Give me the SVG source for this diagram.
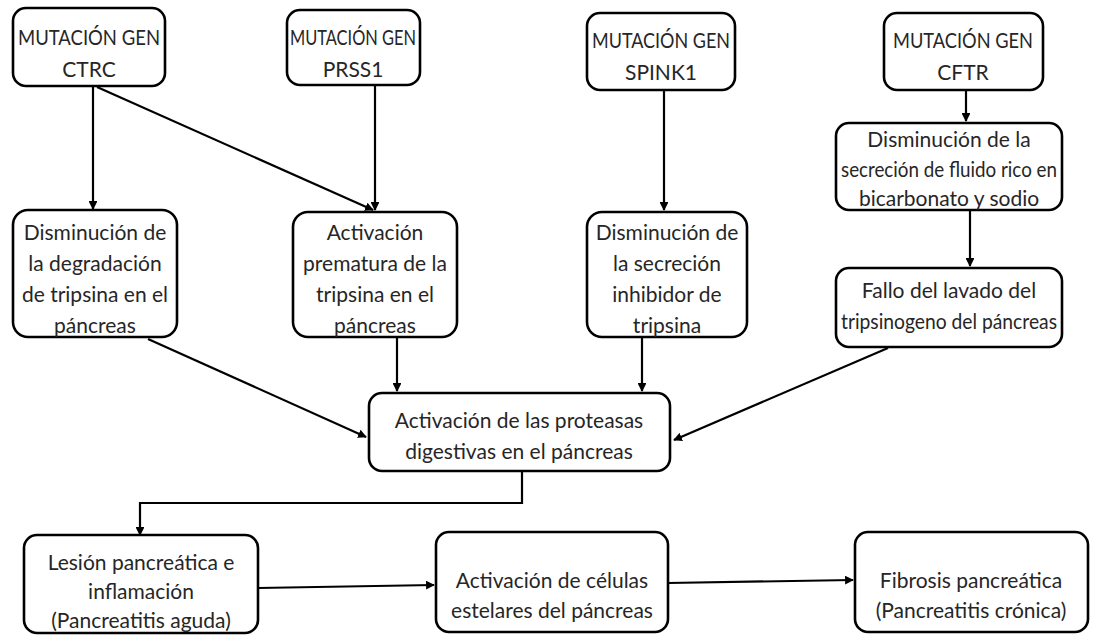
<svg xmlns="http://www.w3.org/2000/svg" width="1103" height="635" viewBox="0 0 1103 635">
<style>
.box{fill:#fff;stroke:#000;stroke-width:2.6}
.t{font-family:Lato,"Open Sans","Liberation Sans",sans-serif;font-size:21px;fill:#262626;text-anchor:middle}
.c{stroke:#000;stroke-width:2.2;fill:none;marker-end:url(#ah)}
</style>
<defs>
<marker id="ah" viewBox="0 0 10 10" refX="9" refY="5" markerWidth="4" markerHeight="4" orient="auto" markerUnits="strokeWidth">
<path d="M0,0 L10,5 L0,10 z" fill="#000"/>
</marker>
</defs>
<rect width="1103" height="635" fill="#fff"/>
<g id="connectors">
<line class="c" x1="93" y1="86" x2="93" y2="209"/>
<line class="c" x1="97" y1="87" x2="373" y2="210"/>
<line class="c" x1="375" y1="85" x2="375" y2="210"/>
<line class="c" x1="664" y1="90" x2="664" y2="210"/>
<line class="c" x1="966" y1="90" x2="966" y2="121"/>
<line class="c" x1="970" y1="210" x2="970" y2="266"/>
<line class="c" x1="148" y1="339" x2="366" y2="437"/>
<line class="c" x1="397" y1="337" x2="397" y2="391"/>
<line class="c" x1="642" y1="337" x2="642" y2="391"/>
<line class="c" x1="888" y1="348" x2="674" y2="440"/>
<polyline class="c" points="522,471 522,503 140,503 140,535"/>
<line class="c" x1="258" y1="588" x2="434" y2="585"/>
<line class="c" x1="668" y1="583" x2="853" y2="580"/>
</g>
<g id="n-ctrc">
<rect class="box" x="13" y="8" width="152" height="78" rx="13"/>
<text class="t" x="89" y="45" textLength="142" lengthAdjust="spacingAndGlyphs">MUTACIÓN GEN</text>
<text class="t" x="89" y="77">CTRC</text>
</g>
<g id="n-prss1">
<rect class="box" x="287" y="10" width="133" height="75" rx="13"/>
<text class="t" x="353" y="45" textLength="126" lengthAdjust="spacingAndGlyphs">MUTACIÓN GEN</text>
<text class="t" x="353" y="77">PRSS1</text>
</g>
<g id="n-spink1">
<rect class="box" x="587" y="13" width="148" height="77" rx="13"/>
<text class="t" x="661" y="48" textLength="138" lengthAdjust="spacingAndGlyphs">MUTACIÓN GEN</text>
<text class="t" x="661" y="80">SPINK1</text>
</g>
<g id="n-cftr">
<rect class="box" x="884" y="13" width="159" height="77" rx="13"/>
<text class="t" x="963" y="48" textLength="140" lengthAdjust="spacingAndGlyphs">MUTACIÓN GEN</text>
<text class="t" x="963" y="80">CFTR</text>
</g>
<g id="n-cftr2">
<rect class="box" x="836" y="123" width="226" height="87" rx="13"/>
<text class="t" x="949" y="147">Disminución de la</text>
<text class="t" x="949" y="177" textLength="216" lengthAdjust="spacingAndGlyphs">secreción de fluido rico en</text>
<text class="t" x="949" y="206">bicarbonato y sodio</text>
</g>
<g id="n-fallo">
<rect class="box" x="836" y="268" width="226" height="79" rx="13"/>
<text class="t" x="949" y="298">Fallo del lavado del</text>
<text class="t" x="949" y="329" textLength="216" lengthAdjust="spacingAndGlyphs">tripsinogeno del páncreas</text>
</g>
<g id="n-degr">
<rect class="box" x="13" y="210" width="164" height="127" rx="15"/>
<text class="t" x="95" y="240">Disminución de</text>
<text class="t" x="95" y="271">la degradación</text>
<text class="t" x="95" y="302">de tripsina en el</text>
<text class="t" x="95" y="333">páncreas</text>
</g>
<g id="n-prem">
<rect class="box" x="293" y="212" width="164" height="125" rx="15"/>
<text class="t" x="375" y="240">Activación</text>
<text class="t" x="375" y="271">prematura de la</text>
<text class="t" x="375" y="302">tripsina en  el</text>
<text class="t" x="375" y="333">páncreas</text>
</g>
<g id="n-inhib">
<rect class="box" x="587" y="212" width="160" height="125" rx="15"/>
<text class="t" x="667" y="240">Disminución de</text>
<text class="t" x="667" y="271">la secreción</text>
<text class="t" x="667" y="302">inhibidor de</text>
<text class="t" x="667" y="333">tripsina</text>
</g>
<g id="n-prot">
<rect class="box" x="369" y="393" width="301" height="78" rx="13"/>
<text class="t" x="519" y="428">Activación de las proteasas</text>
<text class="t" x="519" y="459">digestivas en el páncreas</text>
</g>
<g id="n-lesion">
<rect class="box" x="24" y="535" width="234" height="98" rx="13"/>
<text class="t" x="141" y="570">Lesión pancreática e</text>
<text class="t" x="141" y="599">inflamación</text>
<text class="t" x="141" y="628">(Pancreatitis aguda)</text>
</g>
<g id="n-estel">
<rect class="box" x="436" y="532" width="232" height="100" rx="13"/>
<text class="t" x="552" y="588">Activación de células</text>
<text class="t" x="552" y="618">estelares del páncreas</text>
</g>
<g id="n-fibro">
<rect class="box" x="855" y="532" width="233" height="100" rx="13"/>
<text class="t" x="971" y="588">Fibrosis pancreática</text>
<text class="t" x="971" y="618">(Pancreatitis crónica)</text>
</g>
</svg>
